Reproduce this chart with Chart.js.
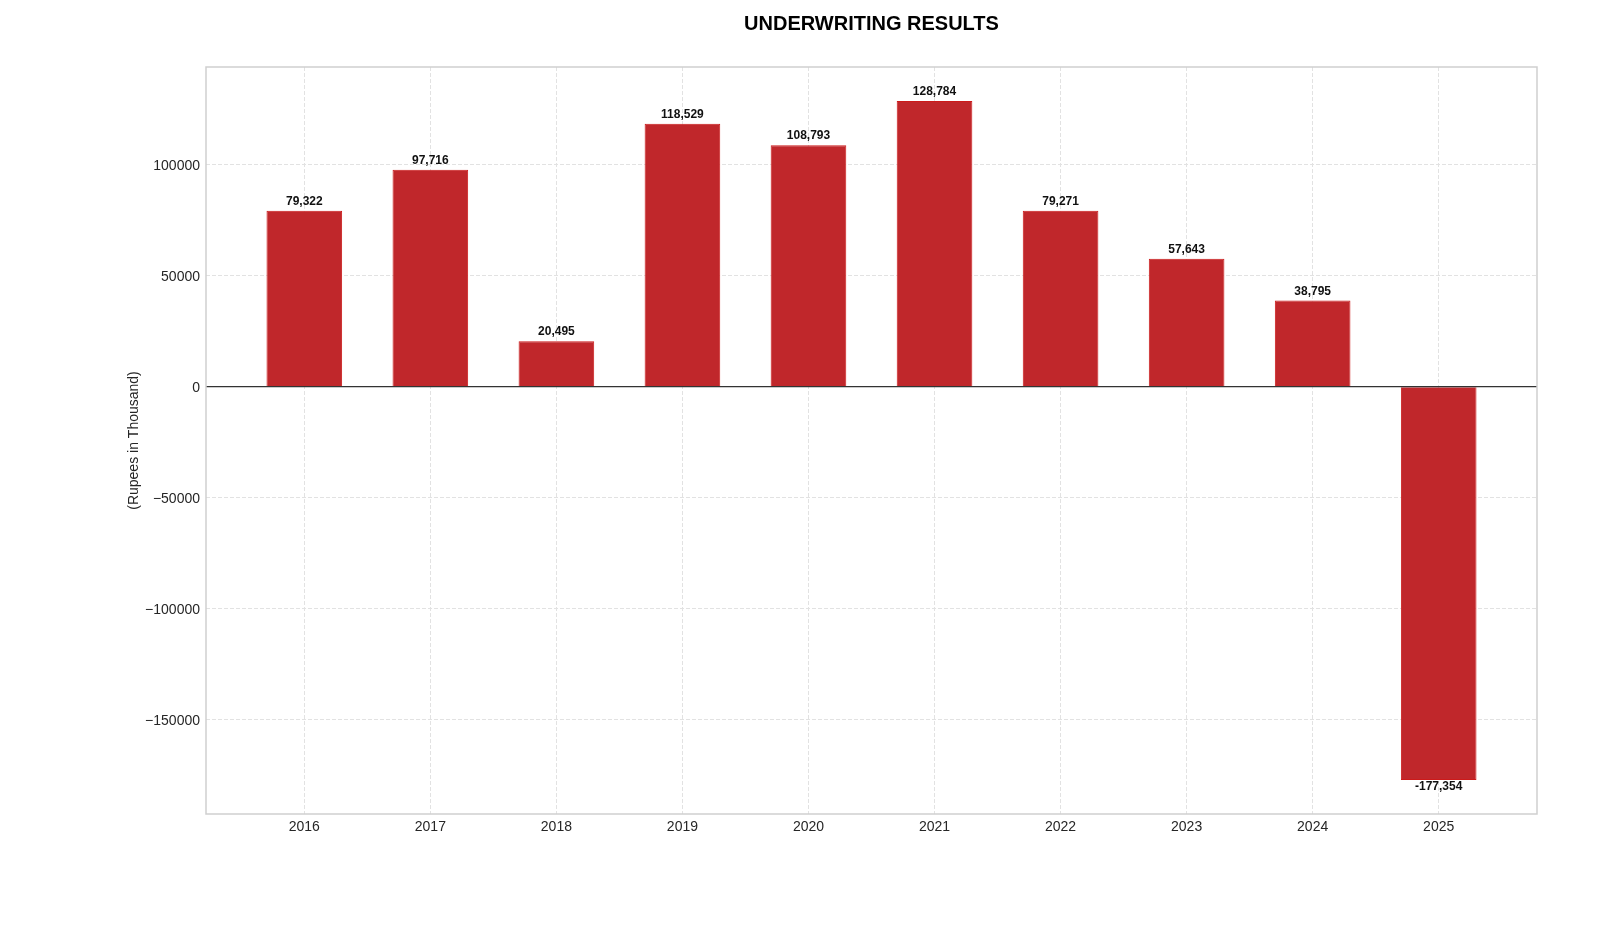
<!DOCTYPE html>
<html>
<head>
<meta charset="utf-8">
<script src="https://cdn.jsdelivr.net/npm/chart.js@4.4.1/dist/chart.umd.min.js"></script>
<style>
    html, body { margin: 0; padding: 0; background: #fff; }
    #wrap { width: 1600px; height: 933px; }
</style>
</head>
<body>
<div id="wrap"><canvas id="uwChart" width="1600" height="933"></canvas></div>
<script>
// datos del grafico
const years = ['2016', '2017', '2018', '2019', '2020', '2021', '2022', '2023', '2024', '2025'];
const results = [79322, 97716, 20495, 118529, 108793, 128784, 79271, 57643, 38795, -177354];
const yTicks = [-150000, -100000, -50000, 0, 50000, 100000];
const yRange = [-192661, 144091];
const xRange = [-0.78, 9.78];

const FONT = "'Liberation Sans', Arial, sans-serif";

// titulo centrado sobre el area del grafico, etiquetas de valor, linea cero y marco
const extras = {
    id: 'extras',
    afterDatasetsDraw(chart) {
        const ctx = chart.ctx;
        const area = chart.chartArea;
        const y = chart.scales.y;

        // linea del cero
        const y0 = y.getPixelForValue(0);
        ctx.save();
        ctx.strokeStyle = '#333333';
        ctx.lineWidth = 1.2;
        ctx.beginPath();
        ctx.moveTo(area.left, y0);
        ctx.lineTo(area.right, y0);
        ctx.stroke();

        // etiquetas de valor
        const meta = chart.getDatasetMeta(0);
        ctx.fillStyle = '#111';
        ctx.font = 'bold 12px ' + FONT;
        ctx.textAlign = 'center';
        ctx.textBaseline = 'alphabetic';
        meta.data.forEach((bar, i) => {
            const v = results[i];
            const txt = v.toLocaleString('en-US');
            if (v >= 0) {
                ctx.fillText(txt, bar.x, bar.y - 6);
            } else {
                ctx.fillText(txt, bar.x, bar.y + 10);
            }
        });

        // marco
        ctx.strokeStyle = '#cfcfcf';
        ctx.lineWidth = 1.5;
        ctx.strokeRect(area.left, area.top, area.right - area.left, area.bottom - area.top);

        // titulo
        ctx.fillStyle = '#000';
        ctx.font = 'bold 20px ' + FONT;
        ctx.fillText('UNDERWRITING RESULTS', (area.left + area.right) / 2, 30);
        ctx.restore();
    }
};

var ctx = document.getElementById('uwChart').getContext('2d');
new Chart(ctx, {
    type: 'bar',
    data: {
        datasets: [{
            label: 'Underwriting Results',
            data: results.map((v, i) => ({ x: i, y: v })),
            backgroundColor: '#c0272b',
            borderColor: '#cc1a1a',
            borderWidth: 1,
            barPercentage: 0.6,
            categoryPercentage: 1.0
        }]
    },
    options: {
        responsive: false,
        animation: false,
        devicePixelRatio: 1,
        layout: {
            padding: { top: 67, right: 63, left: 0, bottom: 0 }
        },
        plugins: {
            legend: { display: false },
            title: { display: false },
            tooltip: { enabled: false }
        },
        scales: {
            x: {
                type: 'linear',
                offset: false,
                min: xRange[0],
                max: xRange[1],
                afterBuildTicks: scale => {
                    scale.ticks = years.map((_, i) => ({ value: i }));
                },
                afterFit: scale => { scale.height = 119; },
                ticks: {
                    callback: v => years[v] !== undefined ? years[v] : '',
                    color: '#262626',
                    font: { family: FONT, size: 14 },
                    padding: 5,
                    maxRotation: 0,
                    autoSkip: false
                },
                grid: { color: '#e2e2e2', lineWidth: 1, drawTicks: false, offset: false },
                border: { display: false, dash: [4, 2] }
            },
            y: {
                min: yRange[0],
                max: yRange[1],
                afterBuildTicks: scale => {
                    scale.ticks = yTicks.map(v => ({ value: v }));
                },
                afterFit: scale => { scale.width = 206; },
                ticks: {
                    callback: v => v < 0 ? '\u2212' + Math.abs(v) : String(v),
                    color: '#262626',
                    font: { family: FONT, size: 14 },
                    padding: 6,
                    labelOffset: 1.5
                },
                title: {
                    display: true,
                    text: '(Rupees in Thousand)',
                    color: '#262626',
                    font: { family: FONT, size: 14 },
                    padding: { top: 126, bottom: 0 }
                },
                grid: { color: '#e2e2e2', lineWidth: 1, drawTicks: false },
                border: { display: false, dash: [4, 2] }
            }
        }
    },
    plugins: [extras]
});
</script>
</body>
</html>
